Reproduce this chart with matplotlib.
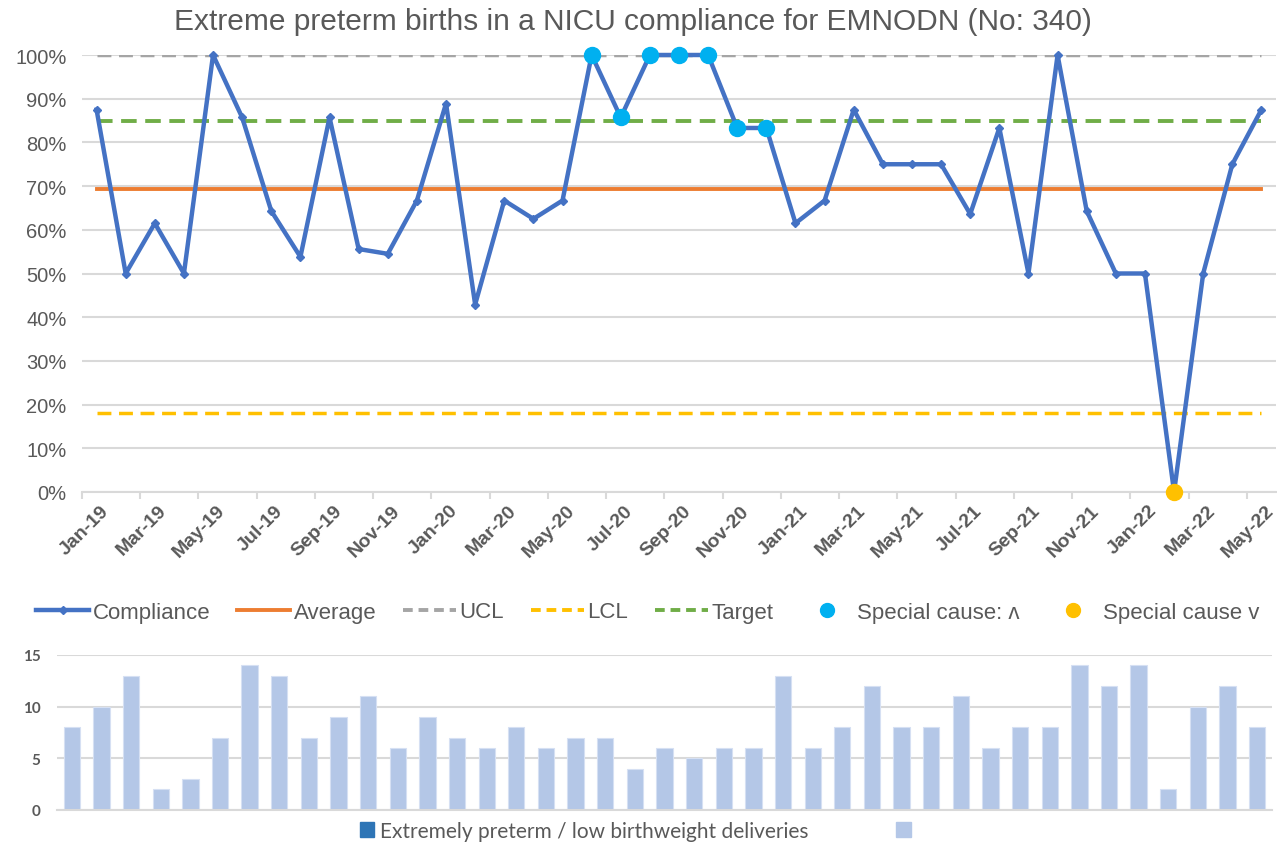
import matplotlib.pyplot as plt
from matplotlib.lines import Line2D
from matplotlib.patches import Patch

plt.rcParams["font.family"] = ["Liberation Sans", "DejaVu Sans"]

months = [
    "Jan-19", "Feb-19", "Mar-19", "Apr-19", "May-19", "Jun-19", "Jul-19", "Aug-19",
    "Sep-19", "Oct-19", "Nov-19", "Dec-19", "Jan-20", "Feb-20", "Mar-20", "Apr-20",
    "May-20", "Jun-20", "Jul-20", "Aug-20", "Sep-20", "Oct-20", "Nov-20", "Dec-20",
    "Jan-21", "Feb-21", "Mar-21", "Apr-21", "May-21", "Jun-21", "Jul-21", "Aug-21",
    "Sep-21", "Oct-21", "Nov-21", "Dec-21", "Jan-22", "Feb-22", "Mar-22", "Apr-22",
    "May-22",
]
compliance = [
    87.5, 50.0, 61.5, 50.0, 100.0, 85.7, 64.3, 53.8, 85.7, 55.6, 54.5, 66.7,
    88.9, 42.9, 66.7, 62.5, 66.7, 100.0, 85.7, 100.0, 100.0, 100.0, 83.3, 83.3,
    61.5, 66.7, 87.5, 75.0, 75.0, 75.0, 63.6, 83.3, 50.0, 100.0, 64.3, 50.0,
    50.0, 0.0, 50.0, 75.0, 87.5,
]
deliveries = [
    8, 10, 13, 2, 3, 7, 14, 13, 7, 9, 11, 6,
    9, 7, 6, 8, 6, 7, 7, 4, 6, 5, 6, 6,
    13, 6, 8, 12, 8, 8, 11, 6, 8, 8, 14, 12,
    14, 2, 10, 12, 8,
]
average = 69.4
ucl = 100.0
lcl = 18.0
target = 85.0
special_up = ["Jun-20", "Jul-20", "Aug-20", "Sep-20", "Oct-20", "Nov-20", "Dec-20"]
special_down = ["Feb-22"]

txt = "#595959"
grid = "#D9D9D9"
n = len(months)
x = list(range(n))
vals = [v / 100 for v in compliance]

W, H = 1277, 845
fig = plt.figure(figsize=(W / 100, H / 100), dpi=100)

# top chart: compliance
ax = fig.add_axes([82 / W, 1 - 493 / H, (1276 - 82) / W, (493 - 56) / H])
ax.set_xlim(-0.5, n - 0.5)
ax.set_ylim(0, 1)
ax.set_yticks([i / 10 for i in range(11)])
ax.set_yticklabels([f"{i * 10}%" for i in range(11)], fontsize=14.5, color=txt)
ax.yaxis.grid(True, color=grid, linewidth=1.5)
ax.set_axisbelow(True)
for s in ["top", "right", "left"]:
    ax.spines[s].set_visible(False)
ax.spines["bottom"].set_color(grid)
ax.spines["bottom"].set_linewidth(1.5)
ax.tick_params(axis="y", length=0, pad=11)

ax.set_xticks([i - 0.5 for i in range(0, n + 1, 2)])
ax.set_xticklabels([])
ax.tick_params(axis="x", length=5, color=grid, width=1.5)
for i in range(0, n, 2):
    ax.text(i + 0.12, -0.022, months[i], rotation=45, ha="right", va="top",
            rotation_mode="anchor", fontsize=14, fontweight="bold", color=txt,
            transform=ax.get_xaxis_transform())

dash = (0, (4, 2.2))
ax.plot([0, n - 1], [ucl / 100] * 2, color="#A5A5A5", lw=2.5, ls=dash)
ax.plot([0, n - 1], [lcl / 100] * 2, color="#FFC000", lw=2.5, ls=dash)
ax.plot([0, n - 1], [target / 100] * 2, color="#70AD47", lw=2.8, ls=dash)
ax.plot([0, n - 1], [average / 100] * 2, color="#ED7D31", lw=2.8)
ax.plot(x, vals, color="#4472C4", lw=3.2, marker="D", ms=4.5, clip_on=False)

up_idx = [months.index(m) for m in special_up]
down_idx = [months.index(m) for m in special_down]
ax.plot(up_idx, [vals[i] for i in up_idx], "o", color="#00B0F0", ms=11.5,
        clip_on=False, zorder=5)
ax.plot(down_idx, [vals[i] for i in down_idx], "o", color="#FFC000", ms=11.5,
        clip_on=False, zorder=5)

fig.text(0.496, 1 - 22 / H, "Extreme preterm births in a NICU compliance for EMNODN (No: 340)",
         ha="center", va="center", fontsize=21.5, color=txt)

handles = [
    Line2D([], [], color="#4472C4", lw=3.2, marker="D", ms=4.5),
    Line2D([], [], color="#ED7D31", lw=2.8),
    Line2D([], [], color="#A5A5A5", lw=2.8, ls=(0, (2.5, 1.5))),
    Line2D([], [], color="#FFC000", lw=2.8, ls=(0, (2.5, 1.5))),
    Line2D([], [], color="#70AD47", lw=2.8, ls=(0, (2.5, 1.5))),
    Line2D([], [], color="#00B0F0", ls="", marker="o", ms=10),
    Line2D([], [], color="#FFC000", ls="", marker="o", ms=10),
]
labels = ["Compliance", "Average", "UCL", "LCL", "Target",
          "Special cause: \u028c", "Special cause v"]
fig.legend(handles, labels, loc="center", bbox_to_anchor=(0.507, 1 - 613 / H),
           ncol=7, frameon=False, fontsize=16, labelcolor=txt,
           handlelength=2.4, handletextpad=0.15, columnspacing=1.2)

# bottom chart: deliveries
bx = fig.add_axes([57 / W, 1 - 811 / H, (1272 - 57) / W, (811 - 656) / H])
bx.bar(x, deliveries, width=0.55, color="#B4C7E7", edgecolor="#D6E0F3", linewidth=0.8)
bx.set_xlim(-0.5, n - 0.5)
bx.set_ylim(0, 15)
bx.set_yticks([0, 5, 10, 15])
bx.set_yticklabels(["0", "5", "10", "15"], fontsize=11, fontweight="bold",
                   color=txt, family=["Lato", "DejaVu Sans"])
bx.yaxis.grid(True, color=grid, linewidth=1.5)
bx.set_axisbelow(True)
for s in ["top", "right", "left"]:
    bx.spines[s].set_visible(False)
bx.spines["bottom"].set_color(grid)
bx.spines["bottom"].set_linewidth(1.5)
bx.set_xticks([])
bx.tick_params(axis="y", length=0, pad=12)

fig.legend([Patch(color="#2E75B6"), Patch(color="#B4C7E7")],
           ["Extremely preterm / low birthweight deliveries", ""],
           loc="center", bbox_to_anchor=(0.5, 1 - 832 / H), ncol=2, frameon=False,
           prop={"family": ["Lato", "DejaVu Sans"], "size": 15}, labelcolor=txt,
           handlelength=0.7, handleheight=0.7, handletextpad=0.3, columnspacing=4.2)

fig.savefig("out.png", dpi=100)
